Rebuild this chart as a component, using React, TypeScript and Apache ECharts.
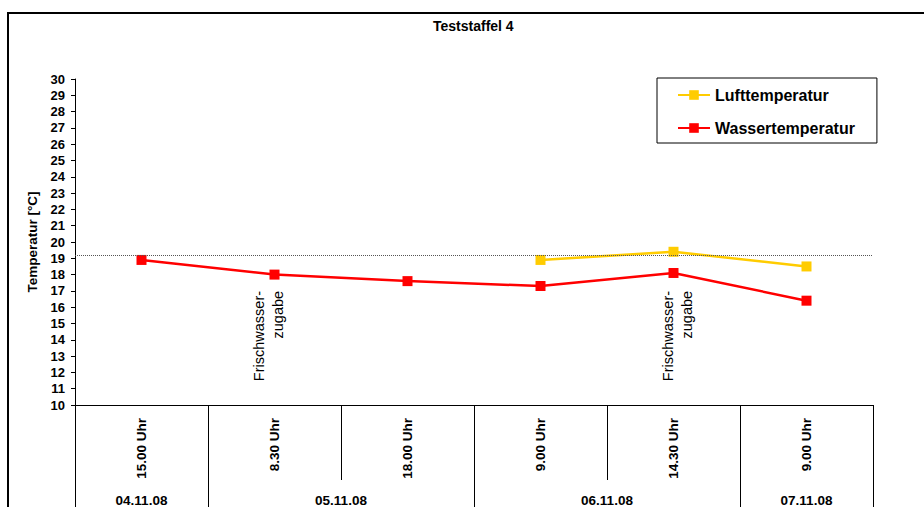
import React, { useEffect, useRef } from "react";
import * as echarts from "echarts";

const titleText = "Teststaffel 4";
const categories = ["15.00 Uhr", "8.30 Uhr", "18.00 Uhr", "9.00 Uhr", "14.30 Uhr", "9.00 Uhr"];
const wasserTemperatur = [18.9, 18.0, 17.6, 17.3, 18.1, 16.4];
const luftTemperatur = [null, null, null, 18.9, 19.4, 18.5];
// half-category slots (13 points across the 6 categories) for the date row
const dateSlots = ["", "04.11.08", "", "", "05.11.08", "", "", "", "06.11.08", "", "", "07.11.08", ""];
const dateBoundarySlots = [0, 2, 6, 10, 12];
const yMin = 10;
const yMax = 30;
const yInterval = 1;
const referenceLevel = 19.2;
const annotations = [
  { category: 1, value: 17, text: "Frischwasser-\nzugabe", dx: -6 },
  { category: 4, value: 17, text: "Frischwasser-\nzugabe", dx: 4 },
];

const FONT = "'Liberation Sans', Arial, sans-serif";

export default function App() {
  const ref = useRef<HTMLDivElement>(null);
  useEffect(() => {
    if (!ref.current) return;
    const chart = echarts.init(ref.current, undefined, { renderer: "svg" });
    const option: any = {
      animation: false,
      backgroundColor: "#fff",
      title: {
        text: titleText,
        left: 428,
        top: 14,
        textStyle: { fontFamily: FONT, fontSize: 14, fontWeight: "bold", color: "#000" },
      },
      legend: {
        orient: "vertical",
        left: 657,
        top: 78,
        padding: [9, 22, 7, 20],
        itemGap: 17,
        itemWidth: 32,
        itemHeight: 12,
        borderColor: "#000",
        borderWidth: 1,
        backgroundColor: "#fff",
        textStyle: { fontFamily: FONT, fontSize: 16, fontWeight: "bold", color: "#000", lineHeight: 16 },
        data: ["Lufttemperatur", "Wassertemperatur"],
      },
      grid: { left: 75, right: 51, top: 79, bottom: 102 },
      xAxis: [
        {
          type: "category",
          data: categories,
          boundaryGap: true,
          axisLine: { show: true, lineStyle: { color: "#000", width: 1 } },
          axisTick: { show: true, interval: 0, length: 75, alignWithLabel: false, lineStyle: { color: "#000" } },
          axisLabel: {
            interval: 0,
            rotate: 90,
            margin: 13,
            fontFamily: FONT,
            fontSize: 13.5,
            fontWeight: "bold",
            color: "#000",
          },
          splitLine: { show: false },
        },
        {
          type: "category",
          position: "bottom",
          offset: 0,
          data: dateSlots,
          boundaryGap: false,
          axisLine: { show: false },
          axisTick: {
            show: true,
            length: 120,
            interval: (index: number) => dateBoundarySlots.indexOf(index) >= 0,
            lineStyle: { color: "#000" },
          },
          axisLabel: {
            interval: (index: number, value: string) => value !== "",
            margin: 88,
            fontFamily: FONT,
            fontSize: 13.5,
            fontWeight: "bold",
            color: "#000",
          },
          splitLine: { show: false },
        },
      ],
      yAxis: {
        type: "value",
        min: yMin,
        max: yMax,
        interval: yInterval,
        name: "Temperatur [°C]",
        nameLocation: "middle",
        nameGap: 35,
        nameRotate: 90,
        nameTextStyle: { fontFamily: FONT, fontSize: 13.5, fontWeight: "bold", color: "#000" },
        axisLine: { show: true, lineStyle: { color: "#000", width: 1 } },
        axisTick: { show: true, length: 4, lineStyle: { color: "#000" } },
        axisLabel: { margin: 10, fontFamily: FONT, fontSize: 13, fontWeight: "bold", color: "#000" },
        splitLine: { show: false },
      },
      series: [
        {
          name: "Lufttemperatur",
          type: "line",
          data: luftTemperatur,
          connectNulls: false,
          symbol: "rect",
          symbolSize: 10,
          lineStyle: { color: "#FFCC00", width: 2.5 },
          itemStyle: { color: "#FFCC00" },
          z: 3,
        },
        {
          name: "Wassertemperatur",
          type: "line",
          data: wasserTemperatur,
          symbol: "rect",
          symbolSize: 10,
          lineStyle: { color: "#FF0000", width: 2.5 },
          itemStyle: { color: "#FF0000" },
          z: 4,
          markLine: {
            silent: true,
            symbol: "none",
            label: { show: false },
            lineStyle: { color: "#555", type: "dotted", width: 1 },
            data: [{ yAxis: referenceLevel }],
          },
        },
      ],
    };
    chart.setOption(option);

    const graphics: any[] = [
      {
        id: "frame",
        type: "rect",
        silent: true,
        z: 100,
        shape: { x: 8, y: 13, width: 2000, height: 2000 },
        style: { fill: "none", stroke: "#000", lineWidth: 2 },
      },
    ];
    annotations.forEach((a, i) => {
      const p = chart.convertToPixel({ xAxisIndex: 0, yAxisIndex: 0 }, [a.category, a.value]) as number[];
      graphics.push({
        id: "ann" + i,
        type: "text",
        x: p[0] + a.dx,
        y: p[1],
        rotation: Math.PI / 2,
        style: {
          text: a.text,
          align: "right",
          verticalAlign: "middle",
          fontFamily: FONT,
          fontSize: 14.5,
          lineHeight: 19,
          fill: "#000",
        },
      });
    });
    chart.setOption({ graphic: graphics });

    return () => chart.dispose();
  }, []);
  return (
    <div style={{ position: "absolute", left: 0, top: 0 }}>
      <div ref={ref} style={{ width: 924, height: 507 }} />
    </div>
  );
}
